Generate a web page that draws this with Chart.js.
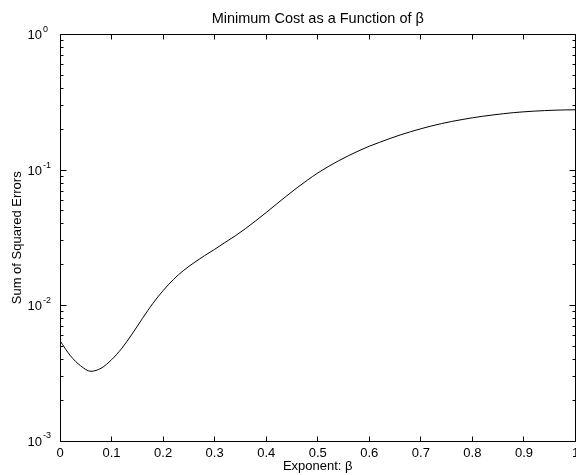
<!DOCTYPE html>
<html>
<head>
<meta charset="utf-8">
<script src="https://cdn.jsdelivr.net/npm/chart.js@4"></script>
<style>
  html, body { margin: 0; padding: 0; background: #fff; }
</style>
</head>
<body>
<canvas id="costChart" width="576" height="475"></canvas>
<script>
// values
const betaValues = [0, 0.02, 0.04, 0.06, 0.08, 0.10, 0.12, 0.14, 0.16, 0.18, 0.20,
  0.22, 0.24, 0.26, 0.28, 0.30, 0.32, 0.34, 0.36, 0.38, 0.40,
  0.42, 0.44, 0.46, 0.48, 0.50, 0.52, 0.54, 0.56, 0.58, 0.60,
  0.62, 0.64, 0.66, 0.68, 0.70, 0.72, 0.74, 0.76, 0.78, 0.80,
  0.82, 0.84, 0.86, 0.88, 0.90, 0.92, 0.94, 0.96, 0.98, 1.00];
const sseValues = [0.00550, 0.00427, 0.00359, 0.00327, 0.00345, 0.00398, 0.00484, 0.00617, 0.00804, 0.01035, 0.01288,
  0.01556, 0.0182, 0.0207, 0.0233, 0.0260, 0.0292, 0.0327, 0.0370, 0.0423, 0.0486,
  0.0561, 0.0646, 0.0741, 0.0843, 0.0951, 0.1059, 0.1169, 0.1279, 0.1390, 0.1500,
  0.1603, 0.1710, 0.1816, 0.1919, 0.2018, 0.2113, 0.2203, 0.2286, 0.2360, 0.2432,
  0.2495, 0.2553, 0.2606, 0.2655, 0.2692, 0.2723, 0.2748, 0.2767, 0.2780, 0.2786];
const xTickValues = [0, 0.1, 0.2, 0.3, 0.4, 0.5, 0.6, 0.7, 0.8, 0.9, 1];
const yDecades = [-3, -2, -1, 0];

const FONT = '"Liberation Sans", Arial, Helvetica, sans-serif';

// box, inward ticks and 10^n labels like the original figure
const matlabAxes = {
  id: 'matlabAxes',
  afterDraw(chart) {
    const ctx = chart.ctx;
    const a = chart.chartArea;
    const xs = chart.scales.x, ys = chart.scales.y;
    const L = Math.floor(a.left) + 0.5, R = Math.floor(a.right) + 0.5;
    const T = Math.floor(a.top) + 0.5, B = Math.floor(a.bottom) + 0.5;
    ctx.save();
    ctx.strokeStyle = '#000';
    ctx.lineWidth = 1;
    ctx.beginPath();
    ctx.rect(L, T, R - L, B - T);
    xTickValues.forEach(v => {
      const px = Math.floor(xs.getPixelForValue(v)) + 0.5;
      ctx.moveTo(px, B); ctx.lineTo(px, B - 5);
      ctx.moveTo(px, T); ctx.lineTo(px, T + 5);
    });
    yDecades.forEach(d => {
      const py = Math.floor(ys.getPixelForValue(Math.pow(10, d))) + 0.5;
      ctx.moveTo(L, py); ctx.lineTo(L + 6, py);
      ctx.moveTo(R, py); ctx.lineTo(R - 6, py);
      if (d < 0) {
        for (let m = 2; m <= 9; m++) {
          const my = Math.floor(ys.getPixelForValue(m * Math.pow(10, d))) + 0.5;
          ctx.moveTo(L, my); ctx.lineTo(L + 3, my);
          ctx.moveTo(R, my); ctx.lineTo(R - 3, my);
        }
      }
    });
    ctx.stroke();

    ctx.fillStyle = '#000';
    yDecades.forEach(d => {
      const py = ys.getPixelForValue(Math.pow(10, d));
      ctx.font = '13px ' + FONT;
      ctx.textAlign = 'right';
      ctx.textBaseline = 'middle';
      ctx.fillText('10', 42, py + 1);
      ctx.font = '9px ' + FONT;
      ctx.textAlign = 'left';
      ctx.fillText(d < 0 ? '-' + (-d) : String(d), 43, py - 5);
    });
    ctx.restore();
  }
};

const ctx = document.getElementById('costChart').getContext('2d');
const costChart = new Chart(ctx, {
  type: 'line',
  data: {
    datasets: [{
      data: betaValues.map((b, i) => ({ x: b, y: sseValues[i] })),
      borderColor: '#000',
      borderWidth: 1,
      pointRadius: 0,
      fill: false,
      cubicInterpolationMode: 'monotone'
    }]
  },
  options: {
    responsive: false,
    animation: false,
    layout: { padding: { left: 0, right: 0.5, top: 0, bottom: 0 } },
    plugins: {
      legend: { display: false },
      tooltip: { enabled: false },
      title: {
        display: true,
        text: 'Minimum Cost as a Function of β',
        fullSize: false,
        color: '#000',
        font: { family: FONT, size: 14.5, weight: 'normal' },
        padding: { top: 9.8, bottom: 7.4 }
      }
    },
    scales: {
      x: {
        type: 'linear',
        min: 0,
        max: 1,
        grid: { display: false, drawTicks: false },
        border: { display: false },
        ticks: {
          stepSize: 0.1,
          padding: 5,
          color: '#000',
          font: { family: FONT, size: 13 },
          maxRotation: 0,
          callback: v => (v === 0 || v === 1) ? String(v) : v.toFixed(1)
        },
        title: {
          display: true,
          text: 'Exponent: β',
          color: '#000',
          font: { family: FONT, size: 13 },
          padding: { top: 0, bottom: 1 }
        },
        afterFit: s => { s.height = 34; s.paddingLeft = 0; s.paddingRight = 0; }
      },
      y: {
        type: 'logarithmic',
        min: 0.001,
        max: 1,
        grid: { display: false, drawTicks: false },
        border: { display: false },
        ticks: { display: false },
        title: {
          display: true,
          text: 'Sum of Squared Errors',
          color: '#000',
          font: { family: FONT, size: 13 },
          padding: { top: 10, bottom: 0 }
        },
        afterFit: s => { s.width = 60; s.paddingTop = 0; s.paddingBottom = 0; }
      }
    }
  },
  plugins: [matlabAxes]
});
</script>
</body>
</html>
